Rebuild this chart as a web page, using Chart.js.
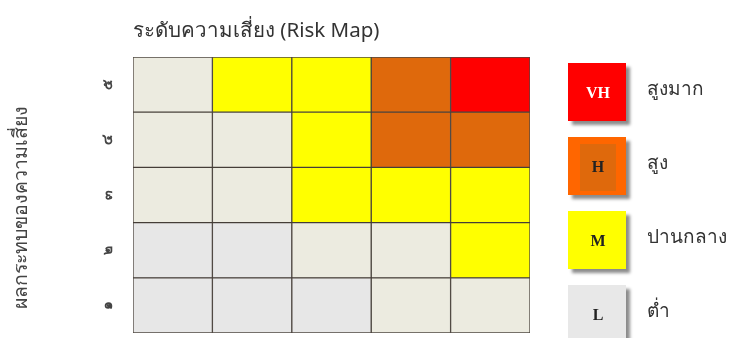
<!DOCTYPE html>
<html>
<head>
<meta charset="utf-8">
<script src="https://cdn.jsdelivr.net/npm/chart.js@4"></script>
<style>
  html, body { margin: 0; padding: 0; background: #fff; }
  #wrap { width: 730px; height: 338px; }
</style>
</head>
<body>
<div id="wrap"><canvas id="chart"></canvas></div>
<script>
// impact levels, top row first (Thai digits)
const impactLabels = ['๕', '๔', '๓', '๒', '๑'];
// likelihood levels, left to right
const likelihood = ['1', '2', '3', '4', '5'];
// risk level of each cell, one list per likelihood column, top row first
const col1 = ['LM', 'LM', 'LM', 'L', 'L'];
const col2 = ['M', 'LM', 'LM', 'L', 'L'];
const col3 = ['M', 'M', 'M', 'LM', 'L'];
const col4 = ['H', 'H', 'M', 'LM', 'LM'];
const col5 = ['VH', 'H', 'M', 'M', 'LM'];
// legend
const legendCodes = ['VH', 'H', 'M', 'L'];
const legendNames = ['สูงมาก', 'สูง', 'ปานกลาง', 'ต่ำ'];

const cellColors = {
  VH: '#ff0000',
  H: '#df690c',
  M: '#ffff00',
  LM: '#ecebe0',
  L: '#e7e7e7'
};
const legendColors = {
  VH: '#ff0000',
  H: '#ff6600',
  M: '#ffff00',
  L: '#e8e8e8'
};

const thaiFont = "'Noto Sans', 'DejaVu Sans', sans-serif";
const columns = [col1, col2, col3, col4, col5];

const datasets = columns.map((col, i) => ({
  label: likelihood[i],
  data: col.map(() => 1),
  backgroundColor: col.map(c => cellColors[c]),
  borderColor: 'rgba(60, 52, 45, 0.9)',
  borderWidth: 1,
  borderSkipped: false,
  barPercentage: 1,
  categoryPercentage: 1
}));

// draws the level legend on the right of the grid
const riskLegend = {
  id: 'riskLegend',
  afterDraw(chart) {
    const ctx = chart.ctx;
    const area = chart.chartArea;
    const size = 58;
    const x = area.right + 38;
    legendCodes.forEach((code, i) => {
      const y = area.top + 6 + i * 74;
      ctx.save();
      ctx.shadowColor = 'rgba(0, 0, 0, 0.45)';
      ctx.shadowOffsetX = 4;
      ctx.shadowOffsetY = 4;
      ctx.shadowBlur = 3;
      ctx.fillStyle = legendColors[code];
      ctx.fillRect(x, y, size, size);
      ctx.restore();
      if (code === 'H') {
        ctx.fillStyle = cellColors.H;
        ctx.fillRect(x + 12, y + 7, size - 22, size - 11);
      }
      ctx.fillStyle = code === 'VH' ? '#ffffff' : '#222222';
      ctx.font = "bold 16px 'Liberation Serif', serif";
      ctx.textAlign = 'center';
      ctx.textBaseline = 'middle';
      ctx.fillText(code, x + size / 2 + 1, y + size / 2 + 2);
      ctx.fillStyle = '#333333';
      ctx.font = '19px ' + thaiFont;
      ctx.textAlign = 'left';
      ctx.fillText(legendNames[i], x + 79, y + size / 2 - 2);
    });
  }
};

const config = {
  type: 'bar',
  data: {
    labels: impactLabels,
    datasets: datasets
  },
  options: {
    indexAxis: 'y',
    responsive: true,
    maintainAspectRatio: false,
    animation: false,
    layout: {
      padding: { left: 0, right: 200, top: 0, bottom: 5 }
    },
    plugins: {
      legend: { display: false },
      tooltip: { enabled: false },
      title: {
        display: true,
        text: 'ระดับความเสี่ยง (Risk Map)',
        align: 'start',
        fullSize: false,
        color: '#333333',
        font: { family: thaiFont, size: 20.5, weight: 'normal' },
        padding: { top: 19, bottom: 13.4 }
      }
    },
    scales: {
      x: {
        type: 'linear',
        stacked: true,
        min: 0,
        max: 5,
        display: false
      },
      y: {
        stacked: true,
        grid: { display: false, drawTicks: false },
        border: { display: false },
        ticks: {
          color: '#444444',
          font: { family: thaiFont, size: 14, weight: 'bold' },
          minRotation: 90,
          maxRotation: 90,
          crossAlign: 'center',
          padding: 19
        },
        title: {
          display: true,
          text: 'ผลกระทบของความเสี่ยง\u00a0\u00a0\u00a0\u00a0\u00a0',
          color: '#444444',
          font: { family: thaiFont, size: 19.5, weight: 'normal' },
          padding: { top: 10, bottom: 0 }
        },
        afterFit(scale) {
          scale.width = 133;
          scale.paddingTop = 0;
          scale.paddingBottom = 0;
        }
      }
    }
  },
  plugins: [riskLegend]
};

const chart = new Chart(document.getElementById('chart'), config);
</script>
</body>
</html>
